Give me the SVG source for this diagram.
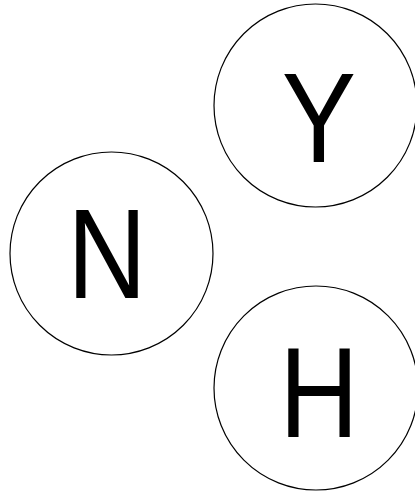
<svg xmlns="http://www.w3.org/2000/svg" width="415" height="492" viewBox="0 0 415 492">
<style>
.node circle{fill:#fff;stroke:#000;stroke-width:1.2}
.node text{font-family:"Liberation Sans",Arial,sans-serif;font-size:128px;text-anchor:middle;fill:#000}
</style>
<rect width="415" height="492" fill="#fff"/>
<g id="connectors"></g>
<g id="node-Y" class="node"><circle cx="315.5" cy="105.5" r="101.5"/><text transform="translate(319 162) scale(0.87 1)">Y</text></g>
<g id="node-N" class="node"><circle cx="111.5" cy="253.5" r="101.5"/><text transform="translate(107 298) scale(0.86 1)">N</text></g>
<g id="node-H" class="node"><circle cx="316" cy="388" r="102"/><text transform="translate(319 437) scale(0.86 1)">H</text></g>
</svg>
